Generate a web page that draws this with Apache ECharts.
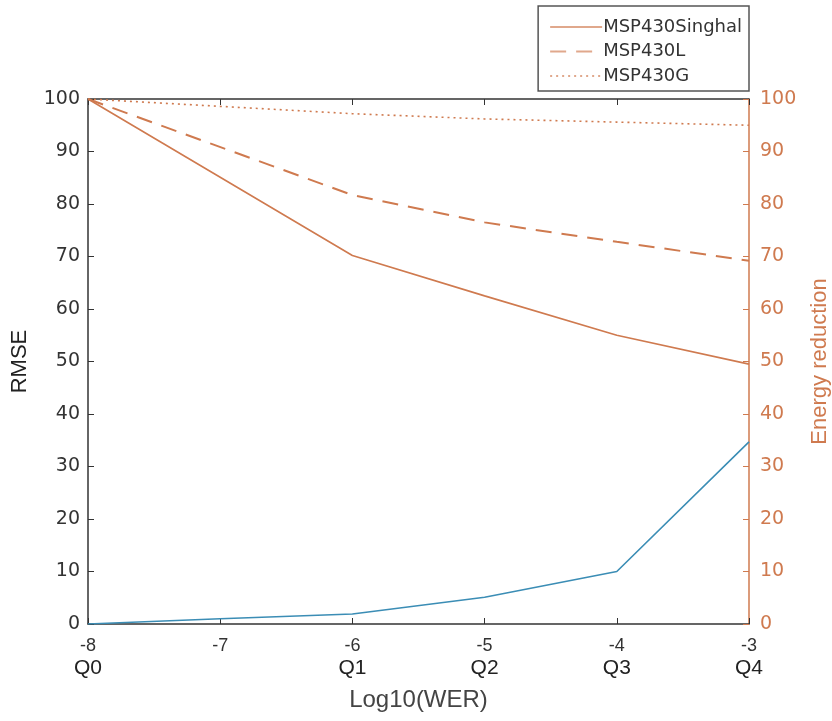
<!DOCTYPE html>
<html>
<head>
<meta charset="utf-8">
<script src="https://cdn.jsdelivr.net/npm/echarts@6/dist/echarts.min.js"></script>
<style>
  html, body { margin: 0; padding: 0; background: #fff; }
  #chart { width: 832px; height: 721px; }
</style>
</head>
<body>
<div id="chart"></div>
<script>
// data
var rmseX = [-8, -7, -6, -5, -4, -3];
var rmse = [0, 1, 1.9, 5.1, 10, 34.7];
var energyX = [-8, -6, -5, -4, -3];
var singhal = [100, 70.2, 62.5, 55, 49.5];
var msp430L = [100, 81.7, 76.5, 72.8, 69.2];
var msp430G = [100, 97.2, 96.2, 95.6, 95];
var qLabels = { '-8': 'Q0', '-6': 'Q1', '-5': 'Q2', '-4': 'Q3', '-3': 'Q4' };

var orange = '#cf7a4f';
var blue = '#3b8db5';
var sans = 'Liberation Sans, Arial, sans-serif';
var wide = 'DejaVu Sans, sans-serif';

function pairs(xs, ys) {
    return xs.map(function(x, i) { return [x, ys[i]]; });
}

var chart = echarts.init(document.getElementById('chart'));
var option = {
    backgroundColor: '#fff',
    animation: false,
    grid: { left: 88, right: 83, top: 99, bottom: 97, containLabel: false, outerBoundsMode: 'none' },
    legend: {
        orient: 'vertical',
        right: 83,
        top: 6,
        padding: [12, 7, 6, 11],
        itemGap: 6.5,
        itemWidth: 52,
        itemHeight: 18,
        borderColor: '#555',
        borderWidth: 1.5,
        itemStyle: { opacity: 0 },
        lineStyle: { opacity: 0.65 },
        textStyle: { fontFamily: wide, fontSize: 18, color: '#333', padding: [0, 0, 0, -4] },
        data: ['MSP430Singhal', 'MSP430L', 'MSP430G']
    },
    xAxis: [{
        type: 'value',
        min: -8, max: -3, interval: 1,
        name: 'Log10(WER)',
        nameLocation: 'middle',
        nameGap: 64,
        nameTextStyle: { fontFamily: sans, fontSize: 24, color: '#444' },
        axisLine: { lineStyle: { color: '#333', width: 1.5 } },
        axisTick: { inside: true, length: 6, lineStyle: { color: '#333' } },
        splitLine: { show: false },
        axisLabel: {
            margin: 12,
            formatter: function(v) {
                var q = qLabels[String(v)];
                return q ? '{a|' + v + '}\n{q|' + q + '}' : '{a|' + v + '}';
            },
            rich: {
                a: { fontSize: 18, fontFamily: sans, color: '#333', lineHeight: 21 },
                q: { fontSize: 21, fontFamily: sans, color: '#222', lineHeight: 22 }
            }
        }
    }, {
        type: 'value',
        position: 'top',
        min: -8, max: -3, interval: 1,
        axisLine: { show: true, onZero: false, lineStyle: { color: '#333', width: 1.5 } },
        axisTick: { inside: true, length: 6, lineStyle: { color: '#333' } },
        axisLabel: { show: false },
        splitLine: { show: false }
    }],
    yAxis: [{
        type: 'value',
        min: 0, max: 100, interval: 10,
        name: 'RMSE',
        nameLocation: 'middle',
        nameGap: 57,
        nameTextStyle: { fontFamily: sans, fontSize: 22, color: '#222' },
        axisLine: { show: true, lineStyle: { color: '#333', width: 1.5 } },
        axisTick: { show: true, inside: true, length: 6, lineStyle: { color: '#333' } },
        axisLabel: { fontFamily: wide, fontSize: 19, color: '#333', margin: 8 },
        splitLine: { show: false }
    }, {
        type: 'value',
        min: 0, max: 100, interval: 10,
        position: 'right',
        name: 'Energy reduction',
        nameLocation: 'middle',
        nameGap: 60,
        nameTextStyle: { fontFamily: sans, fontSize: 22, color: orange },
        axisLine: { show: true, lineStyle: { color: orange, width: 1.5 } },
        axisTick: { show: true, inside: true, length: 6, lineStyle: { color: orange } },
        axisLabel: { fontFamily: wide, fontSize: 19, color: orange, margin: 11 },
        splitLine: { show: false }
    }],
    series: [{
        name: 'RMSE',
        type: 'line',
        yAxisIndex: 0,
        symbol: 'none',
        lineStyle: { color: blue, width: 1.6 },
        itemStyle: { color: blue },
        data: pairs(rmseX, rmse)
    }, {
        name: 'MSP430Singhal',
        type: 'line',
        yAxisIndex: 1,
        symbol: 'none',
        lineStyle: { color: orange, width: 1.6, type: 'solid' },
        itemStyle: { color: orange },
        data: pairs(energyX, singhal)
    }, {
        name: 'MSP430L',
        type: 'line',
        yAxisIndex: 1,
        symbol: 'none',
        lineStyle: { color: orange, width: 2, type: [16, 10] },
        itemStyle: { color: orange },
        data: pairs(energyX, msp430L)
    }, {
        name: 'MSP430G',
        type: 'line',
        yAxisIndex: 1,
        symbol: 'none',
        lineStyle: { color: orange, width: 1.6, type: [2, 4] },
        itemStyle: { color: orange },
        data: pairs(energyX, msp430G)
    }]
};
chart.setOption(option);
</script>
</body>
</html>
